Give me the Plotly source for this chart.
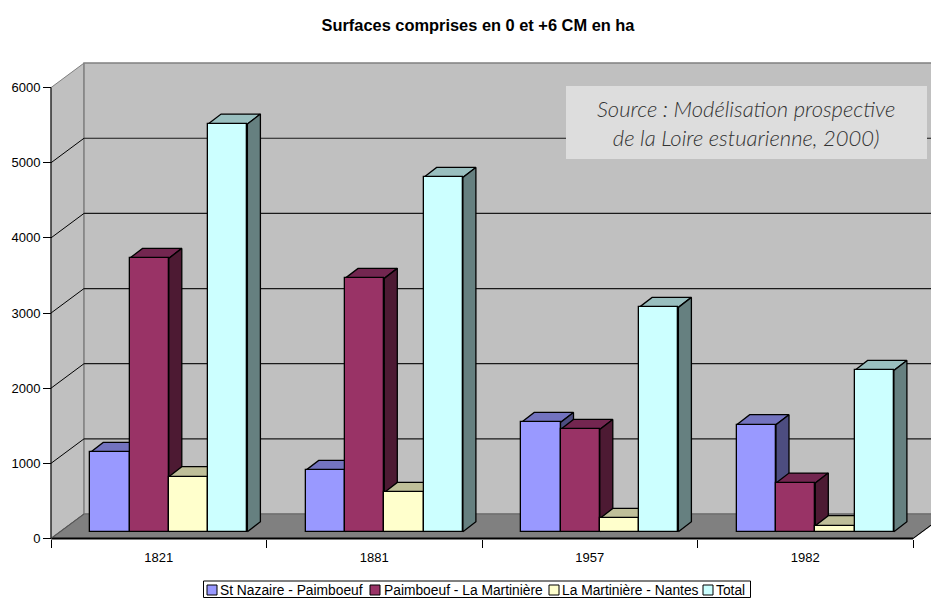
import plotly.graph_objects as go

# ---- data ----
years = ["1821", "1881", "1957", "1982"]
series_names = ["St Nazaire - Paimboeuf", "Paimboeuf - La Martinière", "La Martinière - Nantes", "Total"]
st_nazaire = [1055, 816, 1454, 1424]
paimboeuf = [3637, 3371, 1361, 647]
martiniere = [732, 523, 177, 80]
total = [5424, 4714, 2985, 2146]
y_ticks = [0, 1000, 2000, 3000, 4000, 5000, 6000]
title_text = "Surfaces comprises en 0 et +6 CM en ha"
source_text = "Source : Modélisation prospective<br>de la Loire estuarienne, 2000)"

series_values = [st_nazaire, paimboeuf, martiniere, total]
front_colors = ["#9999FF", "#993366", "#FFFFCC", "#CCFFFF"]
top_colors = ["#7373BF", "#732650", "#BFBF99", "#99BFBF"]
side_colors = ["#4D4D80", "#4D1A33", "#808066", "#668080"]

# ---- figure geometry ----
W, H = 931, 598
X0, CAT = 51.0, 215.5      # pixel of category boundary 0, pixels per category
Y0, SCALE = 538.5, 0.07515  # pixel of value 0, pixels per value unit
xr = [-X0 / CAT, (W - X0) / CAT]
yr = [(Y0 - H) / SCALE, Y0 / SCALE]
wall_dx, wall_dy = 33 / CAT, 24.5 / SCALE
bar_dx, bar_dy = 13 / CAT, 10 / SCALE
bar_w = 39.3 / CAT
bar_start = 39.2 / CAT
bar_base = 6.8 / SCALE
ymax = y_ticks[-1]
n = len(years)

fig = go.Figure()


def poly(xs, ys, fill, line="#000000", lw=1.3):
    fig.add_trace(go.Scatter(x=xs, y=ys, mode="lines", fill="toself", fillcolor=fill,
                             line=dict(color=line, width=lw), hoverinfo="skip", showlegend=False))


def line(xs, ys, color, lw=1.0):
    fig.add_trace(go.Scatter(x=xs, y=ys, mode="lines", line=dict(color=color, width=lw),
                             hoverinfo="skip", showlegend=False))


# walls and floor
poly([0, wall_dx, wall_dx, 0, 0], [0, wall_dy, ymax + wall_dy, ymax, 0], "#C0C0C0", "#808080", 1.0)
poly([wall_dx, n + wall_dx, n + wall_dx, wall_dx, wall_dx],
     [wall_dy, wall_dy, ymax + wall_dy, ymax + wall_dy, wall_dy], "#C0C0C0", "#808080", 1.5)
poly([0, n, n + wall_dx, wall_dx, 0], [0, 0, wall_dy, wall_dy, 0], "#808080", "#666666", 1.2)

# gridlines on the two walls
for v in y_ticks[1:-1]:
    line([0, wall_dx], [v, v + wall_dy], "#000000", 1.0)
    line([wall_dx, n + wall_dx], [v + wall_dy, v + wall_dy], "#1A1A1A", 1.2)

# axis lines
line([0, 0], [0, ymax], "#000000", 1.0)
line([0, n], [0, 0], "#000000", 1.8)
line([0, wall_dx], [0, wall_dy], "#555555", 1.0)
line([n, n + wall_dx], [0, wall_dy], "#000000", 1.0)

# tops and right-hand sides, left to right
for c in range(n):
    for s, vals in enumerate(series_values):
        left = c + bar_start + s * bar_w
        right = left + bar_w
        top = bar_base + vals[c]
        poly([left, right, right + bar_dx, left + bar_dx, left],
             [top, top, top + bar_dy, top + bar_dy, top], top_colors[s])
        poly([right, right + bar_dx, right + bar_dx, right, right],
             [bar_base, bar_base + bar_dy, top + bar_dy, top, bar_base], side_colors[s])

# front faces: real bars on an overlaid axis pair so they sit above every side
for s, vals in enumerate(series_values):
    fig.add_trace(go.Bar(
        x=[c + bar_start + (s + 0.5) * bar_w for c in range(n)],
        y=vals, base=bar_base, width=bar_w, name=series_names[s],
        marker=dict(color=front_colors[s], line=dict(color="#000000", width=1.3)),
        xaxis="x2", yaxis="y2", showlegend=False))

shapes = [dict(type="rect", xref="paper", yref="paper",
               x0=566 / W, x1=927 / W, y0=1 - 159 / H, y1=1 - 86 / H,
               fillcolor="#DDDDDD", line=dict(width=0), layer="above")]
annotations = [dict(text=source_text, xref="paper", yref="paper",
                    x=746 / W, y=1 - 123 / H, xanchor="center", yanchor="middle", showarrow=False,
                    font=dict(family="Lato", size=22, color="#333333", style="italic", weight=300))]

# legend box
leg_swatch_x = [207, 370, 549, 703]
leg_text_x = [219, 382.5, 561, 715]
shapes.append(dict(type="rect", xref="paper", yref="paper",
                   x0=203.5 / W, x1=750.5 / W, y0=1 - 597.5 / H, y1=1 - 581 / H,
                   fillcolor="#FFFFFF", line=dict(color="#000000", width=1), layer="above"))
for s, name in enumerate(series_names):
    shapes.append(dict(type="rect", xref="paper", yref="paper",
                       x0=leg_swatch_x[s] / W, x1=(leg_swatch_x[s] + 10) / W,
                       y0=1 - 595 / H, y1=1 - 585 / H,
                       fillcolor=front_colors[s], line=dict(color="#000000", width=1), layer="above"))
    annotations.append(dict(text=name, xref="paper", yref="paper",
                            x=leg_text_x[s] / W, y=1 - 590.5 / H, xanchor="left", yanchor="middle",
                            xshift=-1, showarrow=False,
                            font=dict(family="Liberation Sans", size=13.8, color="#000000")))

fig.update_layout(
    width=W, height=H,
    margin=dict(l=0, r=0, t=0, b=0),
    paper_bgcolor="#FFFFFF", plot_bgcolor="rgba(0,0,0,0)",
    showlegend=False, barmode="overlay", bargap=0,
    font=dict(family="Liberation Sans", size=12, color="#000000"),
    title=dict(text="<b>%s</b>" % title_text, x=478 / W, y=1 - 25 / H,
               xanchor="center", yanchor="middle",
               font=dict(family="Liberation Sans", size=16.4, color="#000000")),
    shapes=shapes, annotations=annotations,
    xaxis=dict(range=xr, domain=[0, 1], anchor="free", position=(H - Y0) / H,
               showgrid=False, zeroline=False, showline=False,
               tickmode="array", tickvals=[c + 0.5 for c in range(n)], ticktext=years,
               ticks="outside", ticklen=7, tickcolor="rgba(0,0,0,0)",
               tickfont=dict(family="Liberation Sans", size=13, color="#000000"),
               minor=dict(tickmode="array", tickvals=list(range(n + 1)), ticks="outside",
                          ticklen=8, tickcolor="#000000", tickwidth=1, showgrid=False)),
    yaxis=dict(range=yr, domain=[0, 1], anchor="free", position=X0 / W,
               showgrid=False, zeroline=False, showline=False,
               tickmode="array", tickvals=y_ticks, ticktext=[str(v) for v in y_ticks],
               ticks="outside", ticklen=8, tickcolor="#000000", tickwidth=1,
               tickfont=dict(family="Liberation Sans", size=13, color="#000000")),
    xaxis2=dict(range=xr, overlaying="x", visible=False, anchor="y2"),
    yaxis2=dict(range=yr, overlaying="y", visible=False, anchor="x2"),
)

fig.write_html("out.html", config={"displayModeBar": False},
               post_script="document.body.style.margin='0';document.documentElement.style.overflow='hidden';")
